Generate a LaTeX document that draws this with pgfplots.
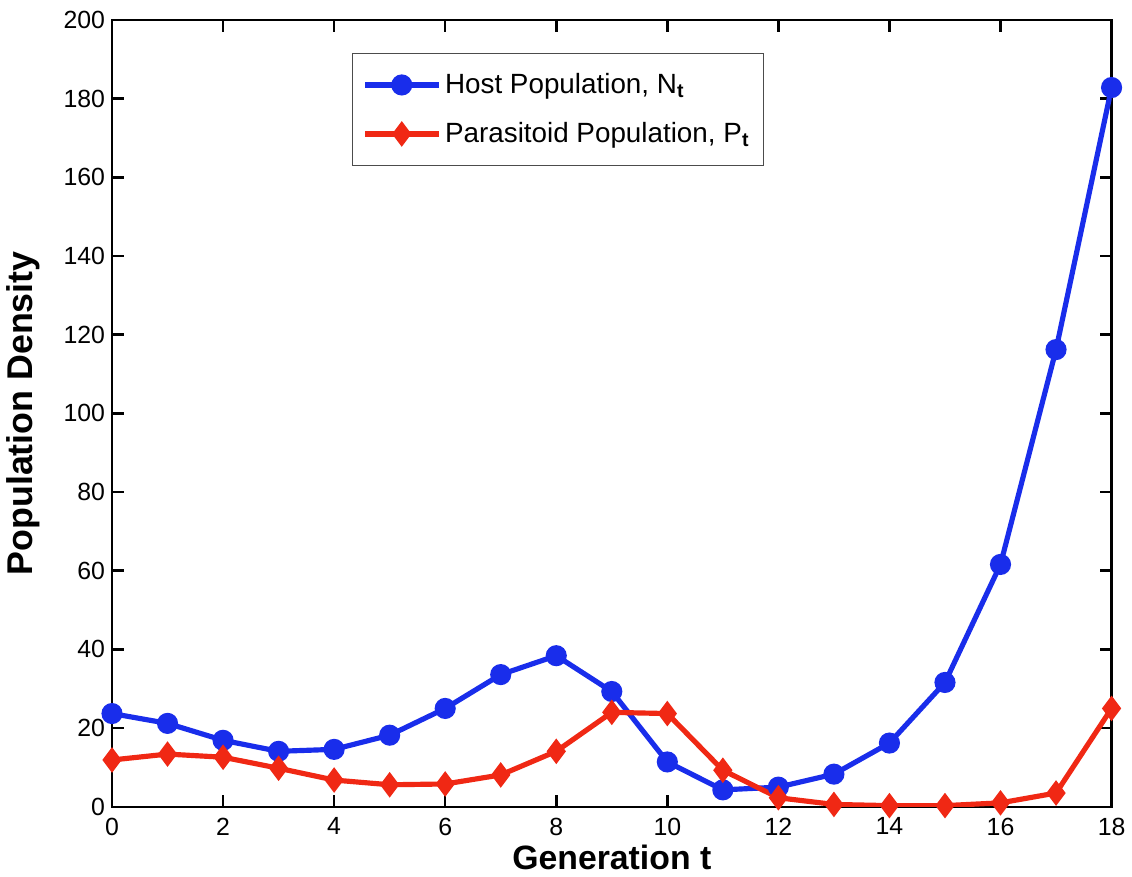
\documentclass[border=0pt]{standalone}
\usepackage{pgfplots}
\pgfplotsset{compat=1.18}
\usepackage{fontspec}
\setmainfont{Liberation Sans}
\definecolor{hostblue}{RGB}{25,45,235}
\definecolor{parared}{RGB}{240,40,20}
\begin{document}
\begin{tikzpicture}
  \begin{axis}[
    width=503pt, height=396pt,
    scale only axis,
    xmin=0, xmax=18,
    ymin=0, ymax=200,
    xtick={0,2,...,18},
    ytick={0,20,...,200},
    tick align=inside,
    tick pos=both,
    major tick length=6pt,
    axis line style={line width=1.3pt},
    every tick/.style={black, line width=1.3pt},
    tick label style={font=\fontsize{12.5}{14}\selectfont},
    xticklabel style={yshift=-2pt},
    /pgf/number format/assume math mode=true,
    xlabel={\bfseries Generation t},
    ylabel={\bfseries Population Density},
    xlabel style={font=\fontsize{17}{19}\selectfont, yshift=2pt},
    ylabel style={font=\fontsize{18}{20}\selectfont, yshift=5pt},
    legend style={
      at={(rel axis cs:0.24,0.958)}, anchor=north west,
      draw=black!70, line width=0.6pt,
      font=\fontsize{14}{16}\selectfont,
      row sep=9pt, inner xsep=5pt, inner ysep=8pt,
    },
    legend cell align=left,
    legend image code/.code={
      \draw[#1, mark=none] (0cm,0cm) -- (1.3cm,0cm);
      \draw[#1, only marks] plot coordinates {(0.65cm,0cm)};
    },
  ]
    \addplot[hostblue, line width=2.6pt, mark=*, mark size=4pt]
      coordinates {
        (0,23.7) (1,21.2) (2,16.9) (3,14.1) (4,14.6) (5,18.2)
        (6,25.0) (7,33.6) (8,38.4) (9,29.3) (10,11.4) (11,4.3)
        (12,5.0) (13,8.3) (14,16.2) (15,31.6) (16,61.6) (17,116.2)
        (18,182.8)
      };
    \addlegendentry{Host Population, N$_{\mathbf{t}}$}
    \addplot[parared, line width=2.6pt, mark=diamond*, mark size=4.3pt]
      coordinates {
        (0,11.9) (1,13.4) (2,12.6) (3,9.8) (4,6.8) (5,5.6)
        (6,5.8) (7,8.1) (8,14.1) (9,24.0) (10,23.7) (11,9.3)
        (12,2.3) (13,0.6) (14,0.3) (15,0.3) (16,1.0) (17,3.5)
        (18,25.0)
      };
    \addlegendentry{Parasitoid Population, P$_{\mathbf{t}}$\hspace{22pt}}
  \end{axis}
  % white margin above the plot box, as in the original figure
  \path (current axis.north west) ++(0,10pt);
\end{tikzpicture}
\end{document}
